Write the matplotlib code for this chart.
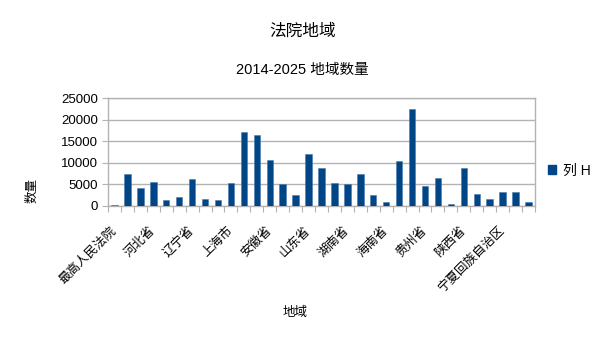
import matplotlib
matplotlib.use('Agg')
import matplotlib.pyplot as plt
from matplotlib.patches import Patch
from matplotlib.ticker import MultipleLocator

plt.rcParams['font.family'] = ['Liberation Sans', 'Noto Sans CJK SC']

regions = [
    '最高人民法院', '北京市', '天津市', '河北省', '山西省', '内蒙古自治区',
    '辽宁省', '吉林省', '黑龙江省', '上海市', '江苏省', '浙江省',
    '安徽省', '福建省', '江西省', '山东省', '河南省', '湖北省',
    '湖南省', '广东省', '广西壮族自治区', '海南省', '重庆市', '四川省',
    '贵州省', '云南省', '西藏自治区', '陕西省', '甘肃省', '青海省',
    '宁夏回族自治区', '新疆维吾尔自治区', '新疆生产建设兵团',
]
counts = [
    230, 7350, 4100, 5570, 1470, 2170,
    6190, 1630, 1320, 5260, 17180, 16490,
    10600, 5030, 2630, 12000, 8820, 5420,
    5110, 7350, 2550, 930, 10370, 22450,
    4570, 6420, 460, 8820, 2710, 1550,
    3250, 3170, 1000,
]
series_name = '列 H'
label_step = 3

bar_color = '#004586'
grid_color = '#b3b3b3'

fig = plt.figure(figsize=(6.05, 3.41), dpi=100)
ax = fig.add_axes([0.1785, 0.3959, 0.7058, 0.3167])

xs = list(range(len(regions)))
ax.bar(xs, counts, width=0.5, color=bar_color, edgecolor='#4a7bb0',
       linewidth=0.4, zorder=3)

ax.set_xlim(-0.5, len(regions) - 0.5)
ax.set_ylim(0, 25000)
ax.yaxis.set_major_locator(MultipleLocator(5000))
ax.grid(axis='y', color=grid_color, linewidth=1, zorder=0)

# ticks sit on the category boundaries, labels on every third category
ax.set_xticks([x - 0.5 for x in xs] + [len(regions) - 0.5], minor=False)
ax.set_xticklabels([])
ax.set_xticks(xs[::label_step], minor=True)
ax.set_xticklabels(regions[::label_step], minor=True, rotation=45,
                   ha='right', va='center', rotation_mode='anchor',
                   fontsize=9)
ax.tick_params(axis='x', which='minor', length=0, pad=16.5)
ax.tick_params(axis='x', which='major', length=4, color=grid_color)
ax.tick_params(axis='y', length=4, color=grid_color, labelsize=9.5, pad=3)

for s in ax.spines.values():
    s.set_color(grid_color)
    s.set_linewidth(1)

fig.text(0.5, 0.91, '法院地域', ha='center', va='center', fontsize=12)
fig.text(0.5, 0.795, '2014-2025 地域数量', ha='center', va='center', fontsize=10.5)
fig.text(0.053, 0.44, '数量', rotation=90, ha='center', va='center', fontsize=9)
fig.text(0.488, 0.082, '地域', ha='center', va='center', fontsize=9)

ax.legend([Patch(color=bar_color)], [series_name], loc='center left',
          bbox_to_anchor=(0.885, 0.5), bbox_transform=fig.transFigure,
          frameon=False, fontsize=10, handlelength=0.6, handleheight=0.6,
          handletextpad=0.5)

fig.savefig('out.png', dpi=100)
